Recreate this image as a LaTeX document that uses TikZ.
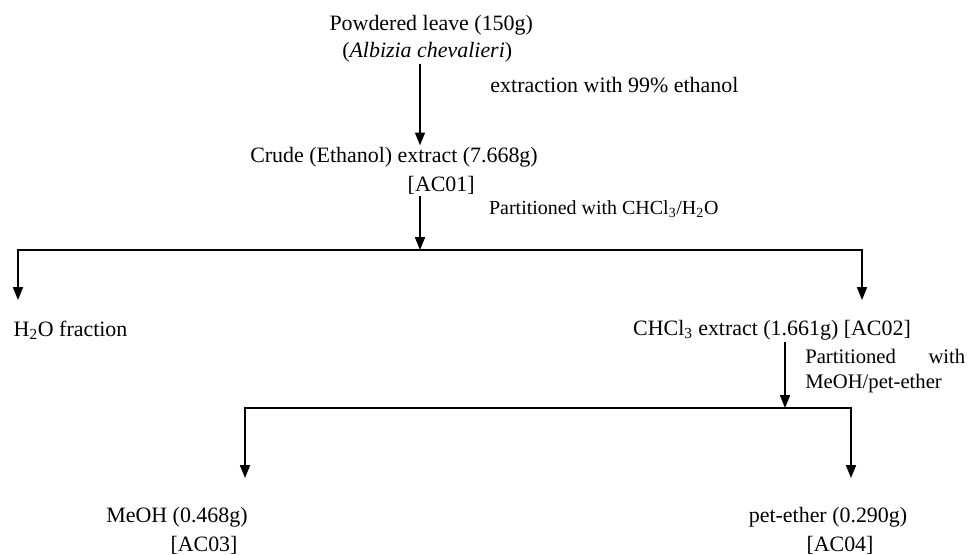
\documentclass[tikz,border=0pt]{standalone}
\usepackage{fontspec}
\setmainfont{Liberation Serif}
\usetikzlibrary{arrows.meta}
\tikzset{
  fl/.style={line width=1pt,-{Triangle[length=3.2mm,width=2.5mm]}},
  tx/.style={inner sep=1pt,font=\fontsize{15.6}{19}\selectfont},
  nt/.style={inner sep=0pt,font=\fontsize{14.7}{18.4}\selectfont}
}

\begin{document}
\begin{tikzpicture}
\useasboundingbox (0,0) rectangle (24.2,13.85);
% junctions and tips
\coordinate (s1) at (10.5,7.6); \coordinate (t1l) at (0.45,6.35); \coordinate (t1r) at (21.55,6.35);
\coordinate (s2) at (19.625,3.65); \coordinate (t2l) at (6.125,1.9); \coordinate (t2r) at (21.275,1.9);
% texts
\node[tx] (pow) at (10.78,13.225) {Powdered leave (150g)};
\node[tx] (alb) at (10.68,12.55) {(\textit{Albizia chevalieri})};
\node[tx,anchor=west] (ext) at (12.22,11.725) {extraction with 99\% ethanol};
\node[tx] (crude) at (9.85,9.925) {Crude (Ethanol) extract (7.668g)};
\node[tx] (ac01) at (11.03,9.225) {[AC01]};
\node[nt,anchor=west,font=\fontsize{14.2}{18}\selectfont] (pt1) at (12.22,8.625) {Partitioned with CHCl\textsubscript{3}/H\textsubscript{2}O};
\node[tx,anchor=west] (h2o) at (0.3,5.6) {H\textsubscript{2}O fraction};
\node[tx] (chcl) at (19.3,5.6) {CHCl\textsubscript{3} extract (1.661g) [AC02]};
\node[nt,anchor=west,text width=4cm,align=justify] (pt2) at (20.125,4.575) {Partitioned with MeOH/pet-ether};
\node[tx] (meoh) at (4.425,0.925) {MeOH (0.468g)};
\node[tx] (ac03) at (5.1,0.225) {[AC03]};
\node[tx] (pet) at (20.7,0.925) {pet-ether (0.290g)};
\node[tx] (ac04) at (21.0,0.225) {[AC04]};
% arrows
\draw[fl] (alb.south -| s1) -- (crude.north -| s1);
\draw[fl] (ac01.south -| s1) -- (s1);
\draw[fl] (s1) -| (t1l); \draw[fl] (s1) -| (t1r);
\draw[fl] (chcl.south -| s2) -- (s2);
\draw[fl] (s2) -| (t2l); \draw[fl] (s2) -| (t2r);
\end{tikzpicture}
\end{document}
